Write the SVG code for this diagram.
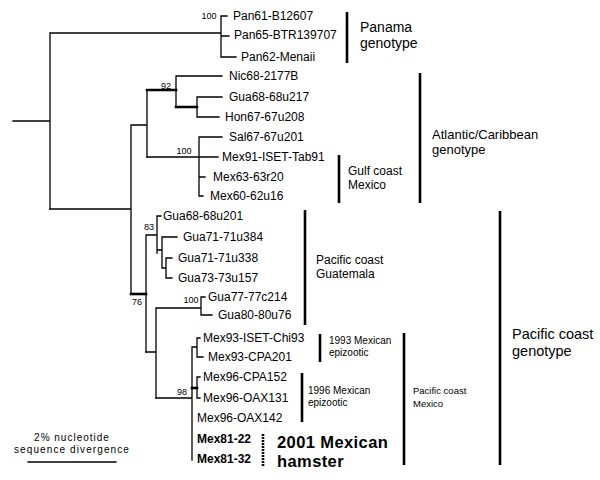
<svg xmlns="http://www.w3.org/2000/svg" width="600" height="480" viewBox="0 0 600 480">
<style>
.br{stroke:#000;stroke-width:1.3;fill:none;stroke-linecap:square}
.tk{stroke:#000;stroke-width:2.6;fill:none;stroke-linecap:square}
.bk{stroke:#000;stroke-width:2.6;fill:none}
.tx{font-family:"Liberation Sans",Arial,sans-serif;font-size:12px;fill:#000}
.b{font-weight:bold}
.bs{font-family:"Liberation Sans",Arial,sans-serif;font-size:9px;fill:#000}
.cl{font-family:"Liberation Sans",Arial,sans-serif;font-size:12px;fill:#000}
.sm{font-family:"Liberation Sans",Arial,sans-serif;font-size:10px;fill:#000}
.f13{font-size:13px}
.f14{font-size:14px}
.f15{font-size:14.5px}
.f9{font-size:9.5px}
.f18{font-size:16.5px;letter-spacing:0.4px}
</style>
<rect width="600" height="480" fill="#fff"/>
<g id="connectors">
<path class="br" d="M13,121H50M50,33V209M50,33H221M221,16V57M221,16H227M221,36H229M221,57H236"/>
<path class="br" d="M50,209H131M131,125V294M131,125H147M147,90V157"/>
<path class="tk" d="M147,90H176M176,107H197"/>
<path class="br" d="M176,76V107M176,76H222M197,97V117M197,97H222M197,117H219"/>
<path class="br" d="M147,157H218M199,137V196M199,137H222M199,177H205M199,196H203"/>
<path class="tk" d="M131,294H146"/>
<path class="br" d="M146,235V352M146,235H157M157,216V253M157,216H161M157,250H162M162,237V268M162,237H177M162,268H166M166,258V278M166,258H172M166,278H172"/>
<path class="br" d="M146,352H156M156,308V398M156,308H201M201,297V315M201,297H205M201,315H212"/>
<path class="br" d="M156,398H192M192,347V460M192,347H197M197,338V357M197,338H200M197,357H203M197,377V398M197,377H200M197,398H200"/>
<path class="tk" d="M192,388H197"/>
<path class="br" d="M28,462H116"/>
</g>
<g id="bootstrap">
<text class="bs" x="209" y="19" text-anchor="middle">100</text>
<text class="bs" x="166" y="89" text-anchor="middle">92</text>
<text class="bs" x="184" y="154" text-anchor="middle">100</text>
<text class="bs" x="149" y="230" text-anchor="middle">83</text>
<text class="bs" x="137" y="305" text-anchor="middle">76</text>
<text class="bs" x="191" y="303" text-anchor="middle">100</text>
<text class="bs" x="182" y="395" text-anchor="middle">98</text>
</g>
<g id="taxa">
<g id="n-pan61"><text class="tx" x="233" y="20">Pan61-B12607</text></g>
<g id="n-pan65"><text class="tx" x="234" y="39">Pan65-BTR139707</text></g>
<g id="n-pan62"><text class="tx" x="241" y="61">Pan62-Menaii</text></g>
<g id="n-nic68"><text class="tx" x="229" y="80">Nic68-2177B</text></g>
<g id="n-gua68a"><text class="tx" x="229" y="101">Gua68-68u217</text></g>
<g id="n-hon67"><text class="tx" x="225" y="121">Hon67-67u208</text></g>
<g id="n-sal67"><text class="tx" x="229" y="141">Sal67-67u201</text></g>
<g id="n-mex91"><text class="tx" x="222" y="161">Mex91-ISET-Tab91</text></g>
<g id="n-mex63"><text class="tx" x="213" y="181">Mex63-63r20</text></g>
<g id="n-mex60"><text class="tx" x="210" y="200">Mex60-62u16</text></g>
<g id="n-gua68b"><text class="tx" x="163" y="220">Gua68-68u201</text></g>
<g id="n-gua71a"><text class="tx" x="183" y="241">Gua71-71u384</text></g>
<g id="n-gua71b"><text class="tx" x="178" y="262">Gua71-71u338</text></g>
<g id="n-gua73"><text class="tx" x="178" y="282">Gua73-73u157</text></g>
<g id="n-gua77"><text class="tx" x="208" y="301">Gua77-77c214</text></g>
<g id="n-gua80"><text class="tx" x="218" y="319">Gua80-80u76</text></g>
<g id="n-mex93a"><text class="tx" x="203" y="342">Mex93-ISET-Chi93</text></g>
<g id="n-mex93b"><text class="tx" x="208" y="361">Mex93-CPA201</text></g>
<g id="n-mex96a"><text class="tx" x="203" y="381">Mex96-CPA152</text></g>
<g id="n-mex96b"><text class="tx" x="203" y="402">Mex96-OAX131</text></g>
<g id="n-mex96c"><text class="tx" x="197" y="422">Mex96-OAX142</text></g>
<g id="n-mex81a"><text class="tx b" x="197" y="443">Mex81-22</text></g>
<g id="n-mex81b"><text class="tx b" x="197" y="463">Mex81-32</text></g>
</g>
<g id="clades">
<g id="c-panama"><path class="bk" d="M347,12V63"/><text class="cl f14" x="360" y="32">Panama</text><text class="cl f14" x="360" y="48">genotype</text></g>
<g id="c-atlantic"><path class="bk" d="M420,73V203"/><text class="cl f13" x="432" y="139">Atlantic/Caribbean</text><text class="cl f13" x="432" y="154">genotype</text></g>
<g id="c-gulf"><path class="bk" d="M339,155V203"/><text class="cl" x="348" y="175">Gulf coast</text><text class="cl" x="348" y="189">Mexico</text></g>
<g id="c-guatemala"><path class="bk" d="M305,210V325"/><text class="cl" x="316" y="264">Pacific coast</text><text class="cl" x="316" y="278">Guatemala</text></g>
<g id="c-pacific"><path class="bk" d="M500,211V465"/><text class="cl f15" x="512" y="339">Pacific coast</text><text class="cl f15" x="512" y="356">genotype</text></g>
<g id="c-pacmexico"><path class="bk" d="M404,333V465"/><text class="sm f9" x="413" y="394">Pacific coast</text><text class="sm f9" x="413" y="407">Mexico</text></g>
<g id="c-1993"><path class="bk" d="M320,334V362"/><text class="sm" x="329" y="344">1993 Mexican</text><text class="sm" x="329" y="356">epizootic</text></g>
<g id="c-1996"><path class="bk" d="M302,373V422"/><text class="sm" x="308" y="394">1996 Mexican</text><text class="sm" x="308" y="406">epizootic</text></g>
<g id="c-2001"><path class="bk" d="M263,434V466" stroke-dasharray="2 1"/><text class="tx b f18" x="277" y="448">2001 Mexican</text><text class="tx b f18" x="277" y="467">hamster</text></g>
</g>
<g id="scale">
<text class="sm" x="72" y="441" text-anchor="middle" letter-spacing="1">2% nucleotide</text>
<text class="sm" x="72" y="453" text-anchor="middle" letter-spacing="1.1">sequence divergence</text>
</g>
</svg>
